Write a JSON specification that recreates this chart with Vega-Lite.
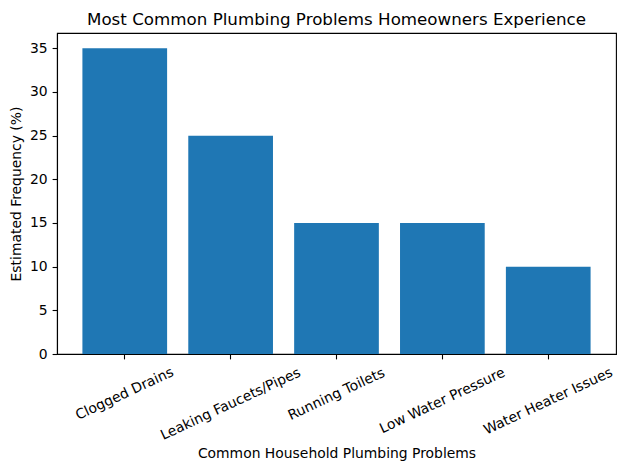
{
  "$schema": "https://vega.github.io/schema/vega-lite/v6.json",
  "width": 559,
  "height": 321,
  "autosize": {"type": "none"},
  "padding": {"left": 57, "top": 33, "right": 7, "bottom": 116},
  "background": "white",
  "title": {
    "text": "Most Common Plumbing Problems Homeowners Experience",
    "font": "DejaVu Sans",
    "fontSize": 16.7,
    "fontWeight": "normal",
    "color": "black",
    "anchor": "middle",
    "baseline": "alphabetic",
    "offset": 8,
    "dy": 17
  },
  "data": {
    "values": [
      {"problem": "Clogged Drains", "frequency": 35},
      {"problem": "Leaking Faucets/Pipes", "frequency": 25},
      {"problem": "Running Toilets", "frequency": 15},
      {"problem": "Low Water Pressure", "frequency": 15},
      {"problem": "Water Heater Issues", "frequency": 10}
    ]
  },
  "mark": {"type": "bar", "color": "#1f77b4"},
  "encoding": {
    "x": {
      "field": "problem",
      "type": "nominal",
      "sort": null,
      "scale": {"paddingInner": 0.2, "paddingOuter": 0.24},
      "axis": {
        "title": "Common Household Plumbing Problems",
        "labelAngle": -25,
        "labelAlign": "center",
        "labelBaseline": "middle",
        "labelPadding": {
          "condition": [
            {"test": "datum.value === 'Clogged Drains'", "value": 34.6},
            {"test": "datum.value === 'Leaking Faucets/Pipes'", "value": 44.8},
            {"test": "datum.value === 'Running Toilets'", "value": 35},
            {"test": "datum.value === 'Low Water Pressure'", "value": 41.5}
          ],
          "value": 42
        },
        "titlePadding": 4
      }
    },
    "y": {
      "field": "frequency",
      "type": "quantitative",
      "scale": {"domain": [0, 36.75], "nice": false, "zero": true},
      "axis": {
        "title": "Estimated Frequency (%)",
        "values": [0, 5, 10, 15, 20, 25, 30, 35],
        "labelPadding": 4.9,
        "titlePadding": 6
      }
    }
  },
  "config": {
    "font": "DejaVu Sans",
    "view": {"stroke": "black", "strokeWidth": 1.1},
    "axis": {
      "grid": false,
      "domainColor": "black",
      "domainWidth": 1.1,
      "tickColor": "black",
      "tickWidth": 1.1,
      "tickSize": 4.9,
      "labelFont": "DejaVu Sans",
      "labelFontSize": 13.9,
      "labelColor": "black",
      "labelOverlap": false,
      "labelBound": false,
      "labelFlush": false,
      "titleFont": "DejaVu Sans",
      "titleFontSize": 13.9,
      "titleFontWeight": "normal",
      "titleColor": "black"
    }
  }
}
